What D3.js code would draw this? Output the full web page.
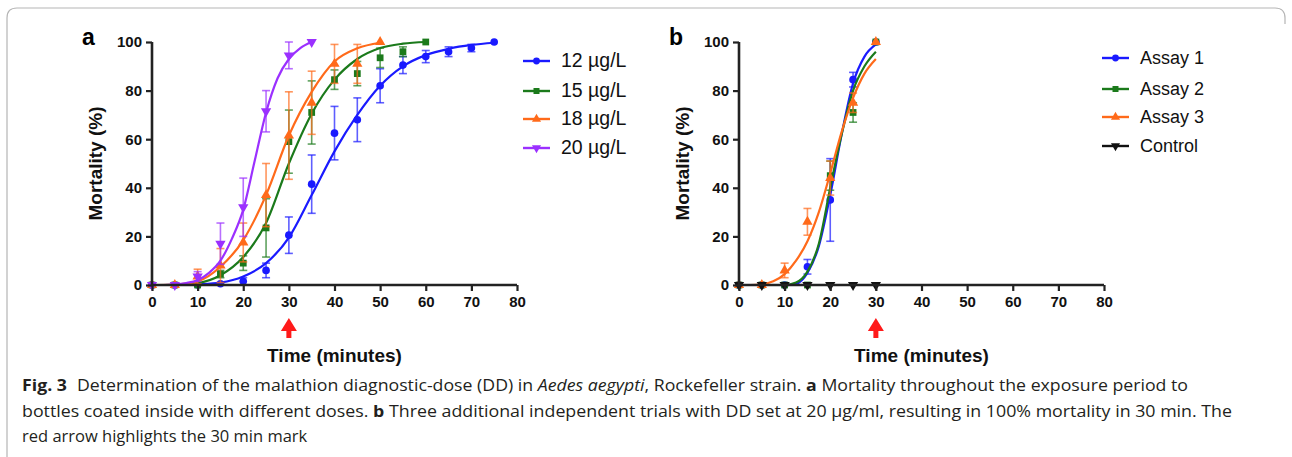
<!DOCTYPE html>
<html>
<head>
<meta charset="utf-8">
<script src="https://cdn.jsdelivr.net/npm/d3@7"></script>
<style>
  body { margin: 0; background: #fff; }
  svg { display: block; }
</style>
</head>
<body>
<script>
var w = 1292;
var h = 457;

// ---- panel a : doses ----
var seriesA = ["12 µg/L", "15 µg/L", "18 µg/L", "20 µg/L"];
var colorsA = ["#1a1aff", "#1b7a1b", "#ff6a1a", "#9b30ff"];
var symbolsA = ["circle", "square", "triangle", "triangleDown"];

var timeA12 = [0, 5, 10, 15, 20, 25, 30, 35, 40, 45, 50, 55, 60, 65, 70, 75];
var mortA12 = [0, 0, 0, 0.5, 1.5, 6, 20.5, 41.5, 62.5, 68, 82, 90.5, 94, 96, 97.5, 100];
var errA12  = [0, 0, 0, 0.5, 1.5, 3, 7.5, 12, 11, 9, 7, 3.5, 2.5, 2, 1.5, 0];

var timeA15 = [0, 5, 10, 15, 20, 25, 30, 35, 40, 45, 50, 55, 60];
var mortA15 = [0, 0, 0, 4.5, 9, 23.5, 59, 71, 84.5, 87, 93.5, 96, 100];
var errA15  = [0, 0, 0, 1.5, 3, 12, 13, 13, 4, 5, 4, 2, 0];

var timeA18 = [0, 5, 10, 15, 20, 25, 30, 35, 40, 45, 50];
var mortA18 = [0, 0, 3.5, 8, 17.5, 37, 61.5, 75, 91, 91, 100];
var errA18  = [0, 0, 3, 7, 8, 13, 18, 13, 8, 8, 0];

var timeA20 = [0, 5, 10, 15, 20, 25, 30, 35];
var mortA20 = [0, 0, 3.5, 17, 32, 71.5, 94.5, 100];
var errA20  = [0, 0, 2, 8.5, 12, 8.5, 5.5, 0];

// fitted curves
var fitTimeA12 = [0, 5, 10, 15, 20, 25, 30, 35, 40, 45, 50, 55, 60, 65, 70, 75];
var fitA12     = [0, 0, 0.3, 1, 3.5, 9, 19.5, 37, 55, 70, 82, 90, 94.6, 97.2, 98.8, 99.7];
var fitTimeA15 = [0, 5, 10, 15, 20, 25, 30, 35, 40, 45, 50, 55, 60];
var fitA15     = [0, 0.1, 0.8, 4, 11.5, 25.5, 50, 70.5, 84.5, 93, 97.5, 99.3, 100];
var fitTimeA18 = [0, 5, 10, 15, 20, 25, 30, 35, 40, 45, 50];
var fitA18     = [0, 0.2, 1.5, 7.5, 18.5, 37, 61.5, 79.5, 92, 97.4, 99.7];
var fitTimeA20 = [0, 2.5, 5, 7.5, 10, 12.5, 15, 17.5, 20, 22.5, 25, 27.5, 30, 32.5, 35];
var fitA20     = [0, 0, 0.2, 0.8, 2, 5, 10, 19, 31, 51, 71, 85, 93, 97.5, 100];

// ---- panel b : assays ----
var seriesB = ["Assay 1", "Assay 2", "Assay 3", "Control"];
var colorsB = ["#1a1aff", "#1b7a1b", "#ff6a1a", "#111111"];
var symbolsB = ["circle", "square", "triangle", "triangleDown"];

var timeB = [0, 5, 10, 15, 20, 25, 30];
var mortB1 = [0, 0, 0, 7.5, 35, 84.5, 100];
var errB1  = [0, 0, 0, 3, 17, 3, 0];
var mortB2 = [0, 0, 0, 0, 45, 71, 100];
var errB2  = [0, 0, 0, 0, 6, 4, 0];
var mortB3 = [0, 0, 6, 26, 44, 75, 100];
var errB3  = [0, 0, 3, 5.5, 7, 4, 0];
var mortB4 = [0, 0, 0, 0, 0, 0, 0];
var errB4  = [0, 0, 0, 0, 0, 0, 0];

var fitTimeB = [0, 2.5, 5, 7.5, 10, 12.5, 15, 17.5, 20, 22.5, 25, 27.5, 30];
var fitB1 = [0, 0, 0, 0, 0, 0.5, 5, 16, 37, 62, 83, 94, 99];
var fitB2 = [0, 0, 0, 0, 0, 1, 5.5, 17, 40, 62, 80, 90, 96];
var fitB3 = [0, 0, 0.3, 1.5, 4.5, 10, 18, 30, 46, 63, 77, 87, 93];
var fitB4 = [0, 0, 0, 0, 0, 0, 0, 0, 0, 0, 0, 0, 0];

var xTicks = [0, 10, 20, 30, 40, 50, 60, 70, 80];
var yTicks = [0, 20, 40, 60, 80, 100];
var arrowAt = 30;

var svg = d3.select("body")
  .append("svg")
  .attr("width", w)
  .attr("height", h);

var axisFont = "'Liberation Sans', Arial, sans-serif";

function zip(t, v, e) {
  return t.map(function(d, i) { return { t: d, v: v[i], e: e ? e[i] : 0 }; });
}

function symbolPath(kind, size) {
  var types = {
    circle: d3.symbolCircle,
    square: d3.symbolSquare,
    triangle: d3.symbolTriangle,
    triangleDown: d3.symbolTriangle
  };
  return d3.symbol().type(types[kind]).size(size)();
}

function drawPanel(opts) {
  var g = svg.append("g");
  var x = d3.scaleLinear().domain([0, 80]).range([opts.x0, opts.x0 + 365]);
  var y = d3.scaleLinear().domain([0, 100]).range([285, 42]);

  // series: error bars, fit line, markers
  opts.series.forEach(function(s, k) {
    var pts = zip(s.time, s.mort, s.err);
    var col = opts.colors[k];
    var sg = g.append("g");

    var eb = sg.selectAll(".eb")
      .data(pts.filter(function(d) { return d.e > 0; }))
      .enter().append("g")
      .attr("stroke", col)
      .attr("stroke-opacity", 0.7)
      .attr("stroke-width", 1.6);
    eb.append("line")
      .attr("x1", function(d) { return x(d.t); })
      .attr("x2", function(d) { return x(d.t); })
      .attr("y1", function(d) { return y(Math.min(100, d.v + d.e)); })
      .attr("y2", function(d) { return y(Math.max(0, d.v - d.e)); });
    eb.append("line")
      .attr("x1", function(d) { return x(d.t) - 4; })
      .attr("x2", function(d) { return x(d.t) + 4; })
      .attr("y1", function(d) { return y(Math.min(100, d.v + d.e)); })
      .attr("y2", function(d) { return y(Math.min(100, d.v + d.e)); });
    eb.append("line")
      .attr("x1", function(d) { return x(d.t) - 4; })
      .attr("x2", function(d) { return x(d.t) + 4; })
      .attr("y1", function(d) { return y(Math.max(0, d.v - d.e)); })
      .attr("y2", function(d) { return y(Math.max(0, d.v - d.e)); });

    var line = d3.line()
      .x(function(d) { return x(d.t); })
      .y(function(d) { return y(d.v); })
      .curve(d3.curveMonotoneX);
    sg.append("path")
      .datum(zip(s.fitTime, s.fit))
      .attr("fill", "none")
      .attr("stroke", col)
      .attr("stroke-width", 2.2)
      .attr("d", line);

    sg.selectAll(".pt")
      .data(pts)
      .enter().append("path")
      .attr("fill", col)
      .attr("d", symbolPath(opts.symbols[k], 46))
      .attr("transform", function(d) {
        var rot = opts.symbols[k] == "triangleDown" ? " rotate(180)" : "";
        return "translate(" + x(d.t) + "," + y(d.v) + ")" + rot;
      });
  });

  // axes
  var xAxis = g.append("g")
    .attr("transform", "translate(0,285)")
    .call(d3.axisBottom(x).tickValues(xTicks).tickSize(6).tickPadding(5));
  var yAxis = g.append("g")
    .attr("transform", "translate(" + opts.x0 + ",0)")
    .call(d3.axisLeft(y).tickValues(yTicks).tickSize(6).tickPadding(4));
  [xAxis, yAxis].forEach(function(a) {
    a.select(".domain").remove();
    a.selectAll(".tick line").attr("stroke", "#222").attr("stroke-width", 2.2);
    a.selectAll("text")
      .attr("fill", "#111")
      .style("font-family", axisFont)
      .style("font-weight", "bold")
      .style("font-size", "15px");
  });
  g.append("path")
    .attr("d", "M" + opts.x0 + "," + y(100) + "V285H" + (opts.x0 + 365))
    .attr("fill", "none")
    .attr("stroke", "#222")
    .attr("stroke-width", 2.6);

  // axis titles
  g.append("text")
    .attr("x", x(40))
    .attr("y", 362)
    .attr("text-anchor", "middle")
    .style("font-family", axisFont)
    .style("font-weight", "bold")
    .style("font-size", "19px")
    .attr("fill", "#111")
    .text("Time (minutes)");
  g.append("text")
    .attr("transform", "translate(" + (opts.x0 - 50) + "," + y(50) + ") rotate(-90)")
    .attr("text-anchor", "middle")
    .style("font-family", axisFont)
    .style("font-weight", "bold")
    .style("font-size", "19px")
    .attr("fill", "#111")
    .text("Mortality (%)");

  // panel letter
  g.append("text")
    .attr("x", opts.x0 - 70)
    .attr("y", 45)
    .style("font-family", axisFont)
    .style("font-weight", "bold")
    .style("font-size", "23px")
    .attr("fill", "#000")
    .text(opts.letter);

  // red arrow at the 30 min mark
  var ax = x(arrowAt);
  g.append("path")
    .attr("d", "M" + ax + ",318L" + (ax + 8) + ",331H" + (ax + 2.5) + "V338H" + (ax - 2.5) + "V331H" + (ax - 8) + "Z")
    .attr("fill", "#ff1a1a");

  // legend
  var lg = g.append("g").attr("transform", "translate(" + opts.legendX + ",0)");
  opts.names.forEach(function(n, k) {
    var ly = opts.legendY[k];
    lg.append("line")
      .attr("x1", 0).attr("x2", 27)
      .attr("y1", ly).attr("y2", ly)
      .attr("stroke", opts.colors[k])
      .attr("stroke-width", 2.4);
    lg.append("path")
      .attr("d", symbolPath(opts.symbols[k], 36))
      .attr("fill", opts.colors[k])
      .attr("transform", "translate(13.5," + ly + ")" + (opts.symbols[k] == "triangleDown" ? " rotate(180)" : ""));
    lg.append("text")
      .attr("x", 38)
      .attr("y", ly + 6)
      .style("font-family", axisFont)
      .style("font-size", opts.legendSize)
      .attr("fill", "#111")
      .text(n);
  });
}

drawPanel({
  x0: 152,
  letter: "a",
  names: seriesA,
  colors: colorsA,
  symbols: symbolsA,
  legendX: 523,
  legendY: [61, 91, 119, 148],
  legendSize: "19.5px",
  series: [
    { time: timeA12, mort: mortA12, err: errA12, fitTime: fitTimeA12, fit: fitA12 },
    { time: timeA15, mort: mortA15, err: errA15, fitTime: fitTimeA15, fit: fitA15 },
    { time: timeA18, mort: mortA18, err: errA18, fitTime: fitTimeA18, fit: fitA18 },
    { time: timeA20, mort: mortA20, err: errA20, fitTime: fitTimeA20, fit: fitA20 }
  ]
});

drawPanel({
  x0: 739,
  letter: "b",
  names: seriesB,
  colors: colorsB,
  symbols: symbolsB,
  legendX: 1102,
  legendY: [58, 89, 117, 146],
  legendSize: "18px",
  series: [
    { time: timeB, mort: mortB1, err: errB1, fitTime: fitTimeB, fit: fitB1 },
    { time: timeB, mort: mortB2, err: errB2, fitTime: fitTimeB, fit: fitB2 },
    { time: timeB, mort: mortB3, err: errB3, fitTime: fitTimeB, fit: fitB3 },
    { time: timeB, mort: mortB4, err: errB4, fitTime: fitTimeB, fit: fitB4 }
  ]
});

// figure frame
svg.append("path")
  .attr("d", "M7,457V18Q7,8 17,8H1275Q1285,8 1285,18V24")
  .attr("fill", "none")
  .attr("stroke", "#b5b5b5")
  .attr("stroke-width", 1.2);

// caption
var capFont = "'Open Sans', 'Noto Sans', sans-serif";
var cap = svg.append("g")
  .style("font-family", capFont)
  .style("font-size", "16.5px")
  .attr("fill", "#231f20");

var l1 = cap.append("text").attr("x", 22).attr("y", 391)
  .attr("textLength", 1166).attr("lengthAdjust", "spacingAndGlyphs");
l1.append("tspan").style("font-weight", "bold").text("Fig. 3");
l1.append("tspan").attr("dx", 5).text(" Determination of the malathion diagnostic-dose (DD) in ");
l1.append("tspan").style("font-style", "italic").text("Aedes aegypti");
l1.append("tspan").text(", Rockefeller strain. ");
l1.append("tspan").style("font-weight", "bold").text("a");
l1.append("tspan").text(" Mortality throughout the exposure period to");

var l2 = cap.append("text").attr("x", 22).attr("y", 417)
  .attr("textLength", 1210).attr("lengthAdjust", "spacingAndGlyphs");
l2.append("tspan").text("bottles coated inside with different doses. ");
l2.append("tspan").style("font-weight", "bold").text("b");
l2.append("tspan").text(" Three additional independent trials with DD set at 20 µg/ml, resulting in 100% mortality in 30 min. The");

cap.append("text").attr("x", 22).attr("y", 442)
  .text("red arrow highlights the 30 min mark");
</script>
</body>
</html>
